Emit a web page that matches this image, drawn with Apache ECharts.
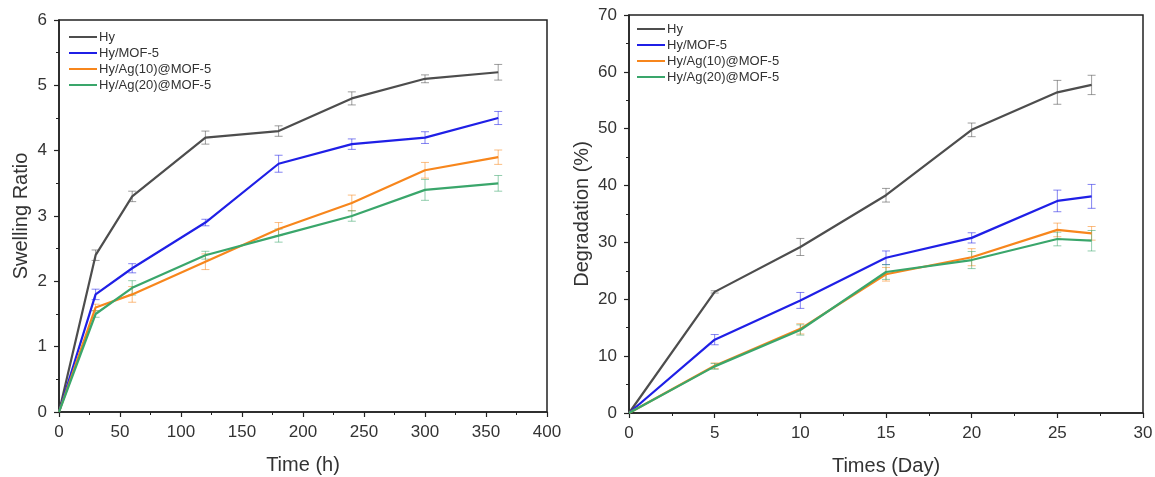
<!DOCTYPE html>
<html>
<head>
<meta charset="utf-8">
<script src="https://cdn.jsdelivr.net/npm/echarts@6/dist/echarts.min.js"></script>
<style>
html,body{margin:0;padding:0;background:#fff;}
#main{width:1155px;height:477px;}
</style>
</head>
<body>
<div id="main"></div>
<script>
var names = ['Hy','Hy/MOF-5','Hy/Ag(10)@MOF-5','Hy/Ag(20)@MOF-5'];
var colors = ['#4d4d4d','#1f1fe6','#f7861c','#3aa66b'];

// swelling (left)
var timeH = [0,30,60,120,180,240,300,360];
var swHy    = [0,2.4,3.3,4.2,4.3,4.8,5.1,5.2];
var swMof   = [0,1.8,2.2,2.9,3.8,4.1,4.2,4.5];
var swAg10  = [0,1.6,1.8,2.3,2.8,3.2,3.7,3.9];
var swAg20  = [0,1.5,1.9,2.4,2.7,3.0,3.4,3.5];
var swErrHy   = [0,0.08,0.08,0.1,0.08,0.1,0.06,0.12];
var swErrMof  = [0,0.08,0.07,0.05,0.13,0.08,0.09,0.1];
var swErrAg10 = [0,0.05,0.12,0.12,0.1,0.12,0.12,0.11];
var swErrAg20 = [0,0.05,0.11,0.06,0.1,0.08,0.16,0.12];

// degradation (right)
var days = [0,5,10,15,20,25,27];
var dgHy   = [0,21.3,29.2,38.3,49.8,56.4,57.7];
var dgMof  = [0,12.9,19.8,27.3,30.8,37.3,38.1];
var dgAg10 = [0,8.3,14.8,24.4,27.4,32.2,31.6];
var dgAg20 = [0,8.2,14.6,24.8,26.9,30.6,30.3];
var dgErrHy   = [0,0.2,1.5,1.2,1.2,2.1,1.7];
var dgErrMof  = [0,0.9,1.4,1.2,0.9,1.9,2.1];
var dgErrAg10 = [0,0.5,0.9,1.2,1.5,1.2,1.2];
var dgErrAg20 = [0,0.5,0.9,1.3,1.5,1.2,1.8];

var swY = [swHy,swMof,swAg10,swAg20];
var swE = [swErrHy,swErrMof,swErrAg10,swErrAg20];
var dgY = [dgHy,dgMof,dgAg10,dgAg20];
var dgE = [dgErrHy,dgErrMof,dgErrAg10,dgErrAg20];

function pairs(xs, ys){
    var out = [];
    for (var i=0;i<xs.length;i++) out.push([xs[i], ys[i]]);
    return out;
}
function errData(xs, ys, es){
    var out = [];
    for (var i=1;i<xs.length;i++) out.push([xs[i], ys[i]-es[i], ys[i]+es[i]]);
    return out;
}
function errRender(params, api){
    var x = api.value(0);
    var lo = api.coord([x, api.value(1)]);
    var hi = api.coord([x, api.value(2)]);
    var w = 4;
    var st = {stroke: api.visual('color'), lineWidth: 1, opacity: 0.55};
    return {
        type: 'group',
        children: [
            {type:'line', shape:{x1:lo[0],y1:lo[1],x2:hi[0],y2:hi[1]}, style:st},
            {type:'line', shape:{x1:lo[0]-w,y1:lo[1],x2:lo[0]+w,y2:lo[1]}, style:st},
            {type:'line', shape:{x1:hi[0]-w,y1:hi[1],x2:hi[0]+w,y2:hi[1]}, style:st}
        ]
    };
}

var axisFont = {fontFamily:'Liberation Sans', fontSize:17, color:'#333'};
var nameFont = {fontFamily:'Liberation Sans', fontSize:20, color:'#333'};
function mkX(idx, max, interval, title){
    return {
        type:'value', gridIndex:idx, min:0, max:max, interval:interval,
        name:title, nameLocation:'middle', nameGap:43, nameTextStyle:nameFont,
        axisLine:{onZero:false, lineStyle:{color:'#222', width:1.5}},
        axisTick:{length:5, lineStyle:{color:'#222', width:1.2}},
        minorTick:{show:true, splitNumber:2, length:3, lineStyle:{color:'#222'}},
        axisLabel:Object.assign({margin:12}, axisFont),
        splitLine:{show:false}
    };
}
function mkY(idx, max, interval, title, gap){
    return {
        type:'value', gridIndex:idx, min:0, max:max, interval:interval,
        name:title, nameLocation:'middle', nameGap:gap, nameTextStyle:nameFont,
        axisLine:{show:true, lineStyle:{color:'#222', width:1.5}},
        axisTick:{show:true, length:5, lineStyle:{color:'#222', width:1.2}},
        minorTick:{show:true, splitNumber:2, length:3, lineStyle:{color:'#222'}},
        axisLabel:Object.assign({margin:12}, axisFont),
        splitLine:{show:false}
    };
}

var series = [];
for (var k=0;k<4;k++){
    series.push({
        name:names[k], type:'line', xAxisIndex:0, yAxisIndex:0,
        data:pairs(timeH, swY[k]), showSymbol:false, symbol:'none',
        lineStyle:{width:2.2, color:colors[k]}, itemStyle:{color:colors[k]}, z:3
    });
    series.push({
        name:names[k], type:'custom', xAxisIndex:0, yAxisIndex:0,
        data:errData(timeH, swY[k], swE[k]), renderItem:errRender,
        itemStyle:{color:colors[k]}, encode:{x:0, y:[1,2]}, z:2
    });
    series.push({
        name:names[k], type:'line', xAxisIndex:1, yAxisIndex:1,
        data:pairs(days, dgY[k]), showSymbol:false, symbol:'none',
        lineStyle:{width:2.2, color:colors[k]}, itemStyle:{color:colors[k]}, z:3
    });
    series.push({
        name:names[k], type:'custom', xAxisIndex:1, yAxisIndex:1,
        data:errData(days, dgY[k], dgE[k]), renderItem:errRender,
        itemStyle:{color:colors[k]}, encode:{x:0, y:[1,2]}, z:2
    });
}

function mkLegend(left, top){
    return {
        left:left, top:top, orient:'vertical', itemGap:2,
        itemWidth:28, itemHeight:2, icon:'rect',
        data:names.map(function(n,i){ return {name:n, itemStyle:{color:colors[i]}}; }),
        textStyle:{fontFamily:'Liberation Sans', fontSize:13, lineHeight:14, color:'#333', padding:[0,0,0,-3]}
    };
}

var myChart = echarts.init(document.getElementById('main'), null, {renderer:'canvas'});
var option = {
    backgroundColor:'#fff',
    animation:false,
    legend:[mkLegend(64, 25), mkLegend(632, 17)],
    grid:[
        {left:59, top:20, width:488, height:392, outerBoundsMode:'none', containLabel:false, show:true, borderColor:'#222', borderWidth:1.5, backgroundColor:'transparent'},
        {left:629, top:15, width:514, height:398, outerBoundsMode:'none', containLabel:false, show:true, borderColor:'#222', borderWidth:1.5, backgroundColor:'transparent'}
    ],
    xAxis:[mkX(0, 400, 50, 'Time (h)'), mkX(1, 30, 5, 'Times (Day)')],
    yAxis:[mkY(0, 6, 1, 'Swelling Ratio', 28), mkY(1, 70, 10, 'Degradation (%)', 37)],
    series:series
};
myChart.setOption(option);
</script>
</body>
</html>
